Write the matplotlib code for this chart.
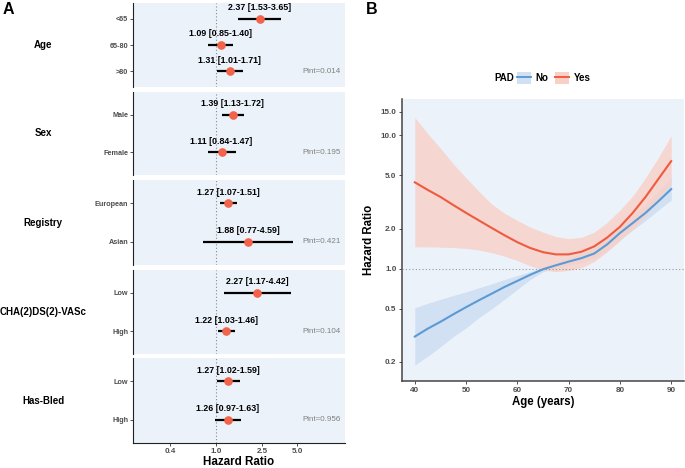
import numpy as np
import matplotlib
matplotlib.use('Agg')
import matplotlib.pyplot as plt
from matplotlib.patches import Patch
from matplotlib.lines import Line2D
from matplotlib.ticker import NullLocator

plt.rcParams['font.family'] = ['Liberation Sans', 'DejaVu Sans']

# ---- panel A data (subgroup forest plot) ----
groups = ['Age', 'Sex', 'Registry', 'CHA(2)DS(2)-VASc', 'Has-Bled']
sub_labels = [['<65', '65-80', '>80'], ['Male', 'Female'], ['European', 'Asian'],
              ['Low', 'High'], ['Low', 'High']]
hr = [[2.37, 1.09, 1.31], [1.39, 1.11], [1.27, 1.88], [2.27, 1.22], [1.27, 1.26]]
ci_lo = [[1.53, 0.85, 1.01], [1.13, 0.84], [1.07, 0.77], [1.17, 1.03], [1.02, 0.97]]
ci_hi = [[3.65, 1.40, 1.71], [1.72, 1.47], [1.51, 4.59], [4.42, 1.46], [1.59, 1.63]]
pint = ['0.014', '0.195', '0.421', '0.104', '0.956']

# ---- panel B data (spline HR by age) ----
age = [40, 42.5, 45, 47.5, 50, 52.5, 55, 57.5, 60, 62.5, 65, 67.5, 70, 72.5, 75,
       77.5, 80, 82.5, 85, 87.5, 90]
no_hr = [0.31, 0.355, 0.40, 0.455, 0.515, 0.58, 0.65, 0.73, 0.81, 0.90, 0.99, 1.06,
         1.13, 1.20, 1.30, 1.52, 1.85, 2.20, 2.62, 3.20, 3.95]
no_lo = [0.19, 0.22, 0.26, 0.31, 0.36, 0.43, 0.50, 0.59, 0.70, 0.83, 0.95, 1.01,
         1.06, 1.11, 1.19, 1.36, 1.65, 1.95, 2.30, 2.75, 3.27]
no_hi = [0.51, 0.55, 0.59, 0.63, 0.67, 0.72, 0.77, 0.83, 0.89, 0.95, 1.03, 1.11,
         1.21, 1.31, 1.45, 1.72, 2.10, 2.52, 3.02, 3.80, 4.85]
yes_hr = [4.44, 3.90, 3.45, 3.00, 2.62, 2.30, 2.02, 1.78, 1.58, 1.43, 1.33, 1.28,
          1.28, 1.34, 1.47, 1.71, 2.06, 2.62, 3.45, 4.70, 6.40]
yes_lo = [1.46, 1.46, 1.45, 1.44, 1.42, 1.38, 1.32, 1.24, 1.15, 1.05, 0.98, 0.95,
          0.97, 1.02, 1.13, 1.34, 1.62, 1.97, 2.50, 3.30, 4.30]
yes_hi = [13.6, 10.3, 8.0, 6.1, 4.8, 3.8, 3.05, 2.6, 2.3, 2.05, 1.88, 1.74,
          1.68, 1.72, 1.88, 2.22, 2.75, 3.50, 4.80, 6.80, 9.90]

bg = '#EBF2FA'
dot = '#F2634A'
tick_col = '#4D4D4D'
blue = '#5B9BD5'
red = '#F05B3F'

W, H = 685, 468
fig = plt.figure(figsize=(6.85, 4.68), dpi=100)


def fbox(x0, y0, x1, y1):
    # pixel box -> figure fraction
    return [x0 / W, 1 - y1 / H, (x1 - x0) / W, (y1 - y0) / H]


panel_px = [(3, 87), (92, 175), (180, 265), (270, 354), (358, 443)]

for i, g in enumerate(groups):
    y0, y1 = panel_px[i]
    ax = fig.add_axes(fbox(133, y0, 345, y1))
    n = len(sub_labels[i])
    ypos = np.arange(n)[::-1]
    ax.set_facecolor(bg)
    ax.set_xscale('log')
    ax.set_xlim(0.19, 13)
    ax.set_ylim(-0.6, n - 0.4)
    ax.axvline(1, color='#888888', lw=0.8, ls=(0, (1, 2)), zorder=1)
    ax.hlines(ypos, ci_lo[i], ci_hi[i], color='black', lw=1.6, zorder=2)
    ax.plot(hr[i], ypos, 'o', color=dot, ms=5.2, zorder=3)
    for j in range(n):
        ax.annotate(f'{hr[i][j]:.2f} [{ci_lo[i][j]:.2f}-{ci_hi[i][j]:.2f}]',
                    (hr[i][j], ypos[j]), xytext=(0, 11), textcoords='offset pixels',
                    ha='center', va='center', fontsize=6.4, fontweight='bold')
    ax.text(0.98, ypos[-1], f'Pint={pint[i]}', transform=ax.get_yaxis_transform(),
            ha='right', va='center', fontsize=5.8, color='#808080')
    for s in ['top', 'right']:
        ax.spines[s].set_visible(False)
    ax.spines['left'].set_color('#222222')
    ax.set_yticks(ypos)
    ax.set_yticklabels(sub_labels[i], fontsize=5.2, fontweight='bold', color=tick_col)
    ax.tick_params(axis='y', length=2, width=0.6, color='#333333', pad=1.5)
    ax.xaxis.set_minor_locator(NullLocator())
    if i == len(groups) - 1:
        ax.spines['bottom'].set_color('#222222')
        ax.set_xticks([0.4, 1, 2.5, 5])
        ax.set_xticklabels(['0.4', '1.0', '2.5', '5.0'], fontsize=5.8,
                           fontweight='bold', color=tick_col)
        ax.tick_params(axis='x', length=2, width=0.6, color='#333333', pad=1.5)
        ax.set_xlabel('Hazard Ratio', fontsize=8.4, fontweight='bold', labelpad=1)
    else:
        ax.spines['bottom'].set_visible(False)
        ax.set_xticks([])
    fig.text(43 / W, 1 - (y0 + y1) / 2 / H, g, ha='center', va='center',
             fontsize=7, fontweight='bold')

# ---- panel B ----
ax2 = fig.add_axes(fbox(402, 99, 684, 381))
ax2.set_facecolor(bg)
ax2.fill_between(age, no_lo, no_hi, color='#D2E0F3', lw=0, zorder=1)
ax2.fill_between(age, yes_lo, yes_hi, color='#F8D0C6', alpha=0.8, lw=0, zorder=2)
ax2.axhline(1, color='#999999', lw=0.8, ls=(0, (1, 2)), zorder=3)
ax2.plot(age, no_hr, color=blue, lw=1.5, zorder=4)
ax2.plot(age, yes_hr, color=red, lw=1.5, zorder=4)
ax2.set_yscale('log')
ax2.set_xlim(37.5, 92.5)
ax2.set_ylim(0.144, 18.7)
ax2.set_yticks([0.2, 0.5, 1, 2, 5, 10, 15])
ax2.set_yticklabels(['0.2', '0.5', '1.0', '2.0', '5.0', '10.0', '15.0'])
ax2.yaxis.set_minor_locator(NullLocator())
ax2.set_xticks([40, 50, 60, 70, 80, 90])
for lab in ax2.get_xticklabels() + ax2.get_yticklabels():
    lab.set_fontsize(5.9)
    lab.set_fontweight('bold')
    lab.set_color(tick_col)
ax2.tick_params(length=2.5, width=0.6, color='#333333', pad=1.5)
for s in ['top', 'right']:
    ax2.spines[s].set_visible(False)
for s in ['left', 'bottom']:
    ax2.spines[s].set_color('#444444')
    ax2.spines[s].set_linewidth(1.1)
ax2.set_xlabel('Age (years)', fontsize=8.3, fontweight='bold', labelpad=2)
ax2.set_ylabel('Hazard Ratio', fontsize=8.3, fontweight='bold', labelpad=4)

# legend
fig.text(494 / W, 1 - 78 / H, 'PAD', ha='left', va='center', fontsize=7, fontweight='bold')
handles = [(Patch(facecolor='#D2E0F3', lw=0), Line2D([], [], color=blue, lw=1.4)),
           (Patch(facecolor='#F8D0C6', lw=0), Line2D([], [], color=red, lw=1.4))]
fig.legend(handles, ['No', 'Yes'], loc='center left', bbox_to_anchor=(517 / W, 1 - 78 / H),
           ncol=2, frameon=False, handlelength=1.4, handleheight=1.4, handletextpad=0.5,
           columnspacing=0.7, borderpad=0, borderaxespad=0,
           prop={'size': 7, 'weight': 'bold'})

# panel letters
fig.text(3 / W, 1 - 10 / H, 'A', fontsize=11.5, fontweight='bold', va='center')
fig.text(366 / W, 1 - 10 / H, 'B', fontsize=11.5, fontweight='bold', va='center')

fig.savefig('out.png', dpi=100)
